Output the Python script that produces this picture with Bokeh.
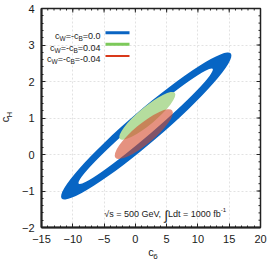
import re
import numpy as np
from bokeh.plotting import figure
from bokeh.models import Range1d, SingleIntervalTicker, FixedTicker, LinearAxis, Label, ColumnDataSource
from bokeh.embed import file_html
from bokeh.resources import INLINE

# ---------------- data ----------------
# ellipses: outer blue ring edge, inner (white) ring edge, cW=-cB=0.04, cW=-cB=-0.04
ell_name = ["ring_outer", "ring_inner", "cw_p004", "cw_m004"]
ell_c6 = [1.74, 1.65, 1.91, 1.35]          # centre (c6)
ell_cH = [0.78, 0.775, 1.06, 0.56]         # centre (cH)
ell_len = [35.6, 28.2, 11.46, 11.8]        # major length (c6 units, before rotation)
ell_wid = [0.87, 0.47, 0.47, 0.55]         # minor length (cH units, before rotation)
ell_angle = [40.6, 40.6, 39.9, 39.8]       # degrees
ell_fill = ["#0765c4", "#ffffff", "#b5dd9e", "#d44a2c"]
ell_alpha = [1.0, 1.0, 1.0, 0.6]

series_labels = ["c_{W}=-c_{B}=0.0", "c_{W}=-c_{B}=0.04", "c_{W}=-c_{B}=-0.04"]
series_colors = ["#0a64c2", "#7cc95a", "#d9391a"]
series_widths = [3, 3, 2]

x_ticks = [-15, -10, -5, 0, 5, 10, 15, 20]
y_ticks = [-2, -1, 0, 1, 2, 3, 4]
x_label, x_label_sub = "c", "6"
y_label, y_label_sub = "c", "H"
annotation = "√s = 500 GeV, "
annotation2 = "Ldt = 1000 fb^{-1}"

FONT = "Liberation Sans"
TXT = "#1a1a1a"
NB = "\u00a0"

# ---------------- geometry ----------------
FW, FH = 219, 219
FL, FT = 40, 8            # frame left / top on the page
X0, X1 = x_ticks[0], x_ticks[-1]
Y0, Y1 = y_ticks[0], y_ticks[-1]
SHIFT = 5                 # left panel is wider than FL; slide the canvas left

def X(px):
    return X0 + (px - FL) * (X1 - X0) / FW

def Y(py):
    return Y1 - (py - FT) * (Y1 - Y0) / FH

p = figure(frame_width=FW, frame_height=FH, output_backend="svg", toolbar_location=None,
           x_range=Range1d(X0, X1), y_range=Range1d(Y0, Y1),
           min_border_left=FL, min_border_right=12, min_border_top=FT, min_border_bottom=36,
           background_fill_color="white", border_fill_color="white",
           outline_line_color="#222222", outline_line_width=1.5)
p.styles = {"margin-left": f"-{SHIFT}px"}

for ax in (p.xaxis[0], p.yaxis[0]):
    ax.major_tick_in = 4
    ax.major_tick_out = 0
    ax.minor_tick_in = 2
    ax.minor_tick_out = 0
    ax.axis_line_width = 2
    ax.axis_line_color = "#222222"
    ax.major_tick_line_color = "#222222"
    ax.minor_tick_line_color = "#222222"
    ax.major_label_text_font = FONT
    ax.major_label_text_font_size = "11px"
    ax.major_label_text_color = TXT
    ax.major_label_standoff = 7
    ax.axis_label_text_font = FONT
    ax.axis_label_text_font_size = "11px"
    ax.axis_label_text_font_style = "normal"
    ax.axis_label_text_color = TXT
p.xaxis.ticker = SingleIntervalTicker(interval=5, num_minor_ticks=5)
p.yaxis.ticker = SingleIntervalTicker(interval=1, num_minor_ticks=5)
p.xaxis.axis_label = x_label
p.xaxis.axis_label_standoff = 0
p.yaxis.axis_label = y_label + NB
p.yaxis.axis_label_standoff = 8

# subscripts of the axis titles: label-only axes pulled back next to the main titles
def sub_axis(text, standoff):
    return LinearAxis(ticker=FixedTicker(ticks=[]), axis_label=text,
                      axis_line_color=None, major_tick_line_color=None, minor_tick_line_color=None,
                      axis_label_standoff=standoff, axis_label_text_font=FONT,
                      axis_label_text_font_size="8px", axis_label_text_font_style="normal",
                      axis_label_text_color=TXT)

p.add_layout(sub_axis(NB * 4 + x_label_sub, -9), "below")
p.add_layout(sub_axis(NB * 3 + y_label_sub, -18), "left")

p.xgrid.grid_line_color = "#e2e2e2"
p.ygrid.grid_line_color = "#e2e2e2"
p.xgrid.grid_line_dash = "2 2"
p.ygrid.grid_line_dash = "2 2"

# ticks on the top and right edges (inward), drawn as dashes clipped by the frame
x_minor = np.unique(np.concatenate([np.linspace(a, b, 6) for a, b in zip(x_ticks[:-1], x_ticks[1:])]))
y_minor = np.unique(np.concatenate([np.linspace(a, b, 6) for a, b in zip(y_ticks[:-1], y_ticks[1:])]))
p.scatter(x=x_minor, y=[Y1] * len(x_minor), marker="dash", angle=90, angle_units="deg",
          size=4, line_color="#222222", line_width=1)
p.scatter(x=x_ticks, y=[Y1] * len(x_ticks), marker="dash", angle=90, angle_units="deg",
          size=8, line_color="#222222", line_width=1)
p.scatter(x=[X1] * len(y_minor), y=y_minor, marker="dash", size=4, line_color="#222222", line_width=1)
p.scatter(x=[X1] * len(y_ticks), y=y_ticks, marker="dash", size=8, line_color="#222222", line_width=1)

src = ColumnDataSource(dict(x=ell_c6, y=ell_cH, w=ell_len, h=ell_wid, a=ell_angle,
                            c=ell_fill, al=ell_alpha))
p.ellipse(x="x", y="y", width="w", height="h", angle="a", angle_units="deg",
          fill_color="c", fill_alpha="al", line_color=None, source=src)

# ---------------- text helpers ----------------
CW = {" ": .278, "-": .333, ".": .278, ",": .278, "=": .584, "c": .5, "s": .5, "d": .556,
      "t": .278, "f": .278, "b": .556, "e": .556, "B": .667, "W": .944, "H": .722,
      "G": .778, "V": .667, "L": .556, "√": .549, "∫": .274}

def tw(s, size):
    return sum(CW.get(ch, .556) for ch in s) * size

def parse(s, size):
    out = []
    for m in re.finditer(r"_\{([^}]*)\}|\^\{([^}]*)\}|([^_^]+)", s):
        if m.group(1) is not None:
            out.append((m.group(1), size * 0.72, size * 0.28))
        elif m.group(2) is not None:
            out.append((m.group(2), size * 0.68, -size * 0.42))
        else:
            out.append((m.group(3), size, 0))
    return out

def put(text, px, py, size, angle=0):
    # screen units, measured from the frame's bottom-left corner, y upwards
    p.add_layout(Label(x=px - FL, y=(FT + FH) - py, x_units="screen", y_units="screen",
                       text=text, text_font=FONT,
                       text_font_size=f"{size:.1f}px", text_color=TXT, text_align="left",
                       text_baseline="alphabetic", angle=angle, angle_units="deg"))

def rich(pieces, px, py, align="left"):
    total = sum(tw(t, s) for t, s, d in pieces)
    x = px - total if align == "right" else (px - total / 2 if align == "center" else px)
    for t, s, d in pieces:
        put(t, x, py + d, s)
        x += tw(t, s)

# ---------------- legend ----------------
row_py = [32.3, 43.8, 55.5]
for lab, col, lw, ry in zip(series_labels, series_colors, series_widths, row_py):
    rich(parse(lab, 9), 99, ry + 3.2, align="right")
    p.segment(x0=[X(104)], y0=[Y(ry)], x1=[X(128)], y1=[Y(ry)], line_color=col, line_width=lw)

# ---------------- annotation ----------------
ann = [(annotation, 9, 0), ("∫", 13, 1.5)] + parse(annotation2, 9)
rich(ann, 102.7, 213.5)

open("out.html", "w").write(file_html(p, INLINE))
